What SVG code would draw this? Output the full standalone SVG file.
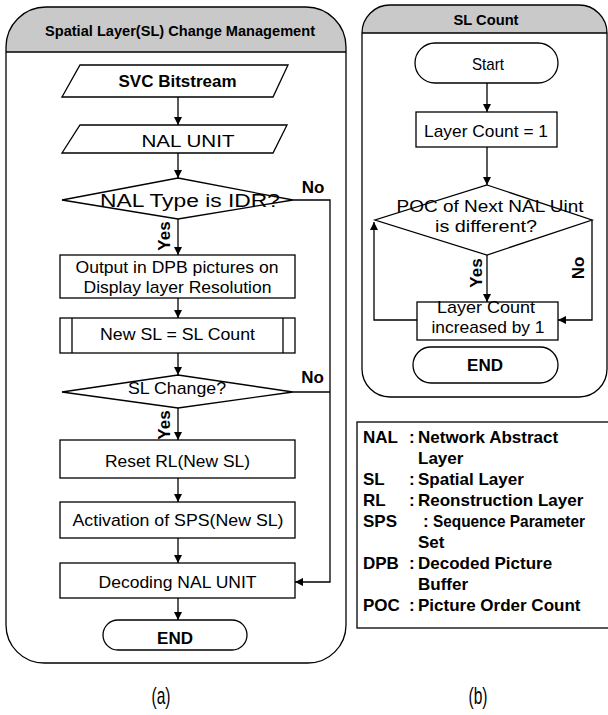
<svg xmlns="http://www.w3.org/2000/svg" width="608" height="715" viewBox="0 0 608 715">
<defs>
<marker id="ah" viewBox="0 0 10 10" refX="10" refY="5" markerWidth="8" markerHeight="8" markerUnits="userSpaceOnUse" orient="auto">
<path d="M0,0 L10,5 L0,10 Z" fill="#000"/>
</marker>
<style>
.ln{fill:none;stroke:#000;stroke-width:1.3}
.bx{fill:#fff;stroke:#000;stroke-width:1.3}
.hd{fill:#c9c9c9;stroke:none}
.t{font-family:"Liberation Sans",Arial,sans-serif;font-size:17px;fill:#000;text-anchor:middle}
.b{font-weight:bold}
.h{font-family:"Liberation Sans",Arial,sans-serif;font-size:15px;font-weight:bold;fill:#000;text-anchor:middle}
.lg{font-family:"Liberation Sans",Arial,sans-serif;font-size:17px;font-weight:bold;fill:#000}
.cap{font-family:"Liberation Sans",Arial,sans-serif;font-size:24px;fill:#000;text-anchor:middle}
.con{fill:none;stroke:#000;stroke-width:1.3}
</style>
</defs>

<!-- Panel (a) -->
<g id="panel-a">
<path class="hd" d="M6,52 L6,47 A40,40 0 0 1 46,7 L306,7 A40,40 0 0 1 346,47 L346,52 Z"/>
<path class="ln" d="M6,47 A40,40 0 0 1 46,7 L306,7 A40,40 0 0 1 346,47 L346,625 A38,38 0 0 1 308,663 L44,663 A38,38 0 0 1 6,625 Z"/>
<line class="ln" x1="6" y1="52" x2="346" y2="52"/>
<text class="h" x="180" y="36" textLength="270" lengthAdjust="spacingAndGlyphs">Spatial Layer(SL) Change Management</text>
</g>

<!-- Panel (b) -->
<g id="panel-b">
<path class="hd" d="M362,33 A28,28 0 0 1 390,5 L579,5 A28,28 0 0 1 607,33 Z"/>
<path class="ln" d="M362,33 A28,28 0 0 1 390,5 L579,5 A28,28 0 0 1 607,33 L607,369 A28,28 0 0 1 579,397 L390,397 A28,28 0 0 1 362,369 Z"/>
<line class="ln" x1="362" y1="33" x2="607" y2="33"/>
<text class="h" x="486" y="25" textLength="65" lengthAdjust="spacingAndGlyphs">SL Count</text>
</g>

<!-- Connectors -->
<g id="connectors">
<line class="con" x1="178" y1="97" x2="178" y2="125" marker-end="url(#ah)"/>
<line class="con" x1="178" y1="153" x2="178" y2="178" marker-end="url(#ah)"/>
<line class="con" x1="178" y1="219" x2="178" y2="255" marker-end="url(#ah)"/>
<polyline class="con" points="293,200 330,200 330,582 295,582" marker-end="url(#ah)"/>
<line class="con" x1="178" y1="298" x2="178" y2="318" marker-end="url(#ah)"/>
<line class="con" x1="178" y1="353" x2="178" y2="375" marker-end="url(#ah)"/>
<line class="con" x1="293" y1="392" x2="330" y2="392"/>
<line class="con" x1="178" y1="408" x2="178" y2="440" marker-end="url(#ah)"/>
<line class="con" x1="178" y1="478" x2="178" y2="502" marker-end="url(#ah)"/>
<line class="con" x1="178" y1="538" x2="178" y2="563" marker-end="url(#ah)"/>
<line class="con" x1="178" y1="598" x2="178" y2="620" marker-end="url(#ah)"/>

<line class="con" x1="487" y1="83" x2="487" y2="112" marker-end="url(#ah)"/>
<line class="con" x1="487" y1="147" x2="487" y2="185" marker-end="url(#ah)"/>
<line class="con" x1="487" y1="255" x2="487" y2="302" marker-end="url(#ah)"/>
<polyline class="con" points="417,320 374,320 374,222" marker-end="url(#ah)"/>
<polyline class="con" points="592,220 592,320 558,320" marker-end="url(#ah)"/>

<text class="t b" x="313" y="193">No</text>
<text class="t b" transform="translate(170,236) rotate(-90)">Yes</text>
<text class="t b" x="312.5" y="383">No</text>
<text class="t b" transform="translate(170,425) rotate(-90)">Yes</text>
<text class="t b" transform="translate(482,273) rotate(-90)">Yes</text>
<text class="t b" transform="translate(584,268) rotate(-90)">No</text>
</g>

<!-- Nodes panel (a) -->
<g id="svc-bitstream">
<polygon class="bx" points="80,65 288,65 273,97 62,97"/>
<text class="t b" x="177.5" y="87" textLength="118" lengthAdjust="spacingAndGlyphs">SVC Bitstream</text>
</g>
<g id="nal-unit">
<polygon class="bx" points="80,125 287,125 273,153 62,153"/>
<text class="t" x="188" y="147" textLength="93" lengthAdjust="spacingAndGlyphs">NAL UNIT</text>
</g>
<g id="nal-type-idr">
<polygon class="bx" points="178,178 293,200 178,219 62,200"/>
<text class="t" x="190" y="207" style="font-size:18px" textLength="180" lengthAdjust="spacingAndGlyphs">NAL Type is IDR?</text>
</g>
<g id="output-dpb">
<rect class="bx" x="60" y="255" width="235" height="43"/>
<text class="t" x="177" y="273" textLength="203" lengthAdjust="spacingAndGlyphs">Output in DPB pictures on</text>
<text class="t" x="177.5" y="293" textLength="188" lengthAdjust="spacingAndGlyphs">Display layer Resolution</text>
</g>
<g id="new-sl">
<rect class="bx" x="60" y="318" width="235" height="35"/>
<line class="ln" x1="72" y1="318" x2="72" y2="353"/>
<line class="ln" x1="283" y1="318" x2="283" y2="353"/>
<text class="t" x="177.5" y="340" textLength="155" lengthAdjust="spacingAndGlyphs">New SL = SL Count</text>
</g>
<g id="sl-change">
<polygon class="bx" points="178,375 293,392 178,408 62,392"/>
<text class="t" x="177" y="394" textLength="98" lengthAdjust="spacingAndGlyphs">SL Change?</text>
</g>
<g id="reset-rl">
<rect class="bx" x="60" y="440" width="235" height="38"/>
<text class="t" x="177.5" y="467" textLength="145" lengthAdjust="spacingAndGlyphs">Reset RL(New SL)</text>
</g>
<g id="activation-sps">
<rect class="bx" x="60" y="502" width="235" height="36"/>
<text class="t" x="178" y="526" textLength="211" lengthAdjust="spacingAndGlyphs">Activation of SPS(New SL)</text>
</g>
<g id="decoding-nal">
<rect class="bx" x="60" y="563" width="235" height="35"/>
<text class="t" x="177.5" y="588" textLength="158" lengthAdjust="spacingAndGlyphs">Decoding NAL UNIT</text>
</g>
<g id="end-a">
<rect class="bx" x="103" y="620" width="144" height="30" rx="15" ry="15"/>
<text class="t b" x="175" y="644">END</text>
</g>

<!-- Nodes panel (b) -->
<g id="start">
<rect class="bx" x="415" y="43" width="143" height="40" rx="20" ry="20"/>
<text class="t" x="488" y="70" textLength="32" lengthAdjust="spacingAndGlyphs">Start</text>
</g>
<g id="layer-count-1">
<rect class="bx" x="416" y="112" width="141" height="35"/>
<text class="t" x="486" y="137" textLength="124" lengthAdjust="spacingAndGlyphs">Layer Count = 1</text>
</g>
<g id="poc-diff">
<polygon class="bx" points="487,185 592,220 487,255 375,220"/>
<text class="t" x="490" y="212" textLength="187" lengthAdjust="spacingAndGlyphs">POC of Next NAL Uint</text>
<text class="t" x="486" y="232" textLength="102" lengthAdjust="spacingAndGlyphs">is different?</text>
</g>
<g id="layer-count-inc">
<rect class="bx" x="417" y="302" width="141" height="38"/>
<text class="t" x="486" y="313" textLength="98" lengthAdjust="spacingAndGlyphs">Layer Count</text>
<text class="t" x="488" y="333" textLength="113" lengthAdjust="spacingAndGlyphs">increased by 1</text>
</g>
<g id="end-b">
<rect class="bx" x="413" y="347" width="145" height="36" rx="18" ry="18"/>
<text class="t b" x="485" y="371">END</text>
</g>

<!-- Legend -->
<g id="legend">
<rect class="bx" x="357" y="422" width="260" height="206"/>
<text class="lg" x="363" y="443">NAL</text><text class="lg" x="409" y="443">:</text><text class="lg" x="418" y="443">Network Abstract</text>
<text class="lg" x="418" y="464">Layer</text>
<text class="lg" x="363" y="485">SL</text><text class="lg" x="409" y="485">:</text><text class="lg" x="418" y="485">Spatial Layer</text>
<text class="lg" x="363" y="506">RL</text><text class="lg" x="409" y="506">:</text><text class="lg" x="418" y="506">Reonstruction Layer</text>
<text class="lg" x="363" y="527">SPS</text><text class="lg" x="423" y="527">:</text><text class="lg" x="433" y="527" textLength="152" lengthAdjust="spacingAndGlyphs">Sequence Parameter</text>
<text class="lg" x="418" y="548">Set</text>
<text class="lg" x="363" y="569">DPB</text><text class="lg" x="409" y="569">:</text><text class="lg" x="418" y="569">Decoded Picture</text>
<text class="lg" x="418" y="590">Buffer</text>
<text class="lg" x="363" y="611">POC</text><text class="lg" x="409" y="611">:</text><text class="lg" x="418" y="611">Picture Order Count</text>
</g>

<!-- Captions -->
<text class="cap" x="161" y="704" textLength="19" lengthAdjust="spacingAndGlyphs">(a)</text>
<text class="cap" x="478" y="704" textLength="19" lengthAdjust="spacingAndGlyphs">(b)</text>
</svg>
